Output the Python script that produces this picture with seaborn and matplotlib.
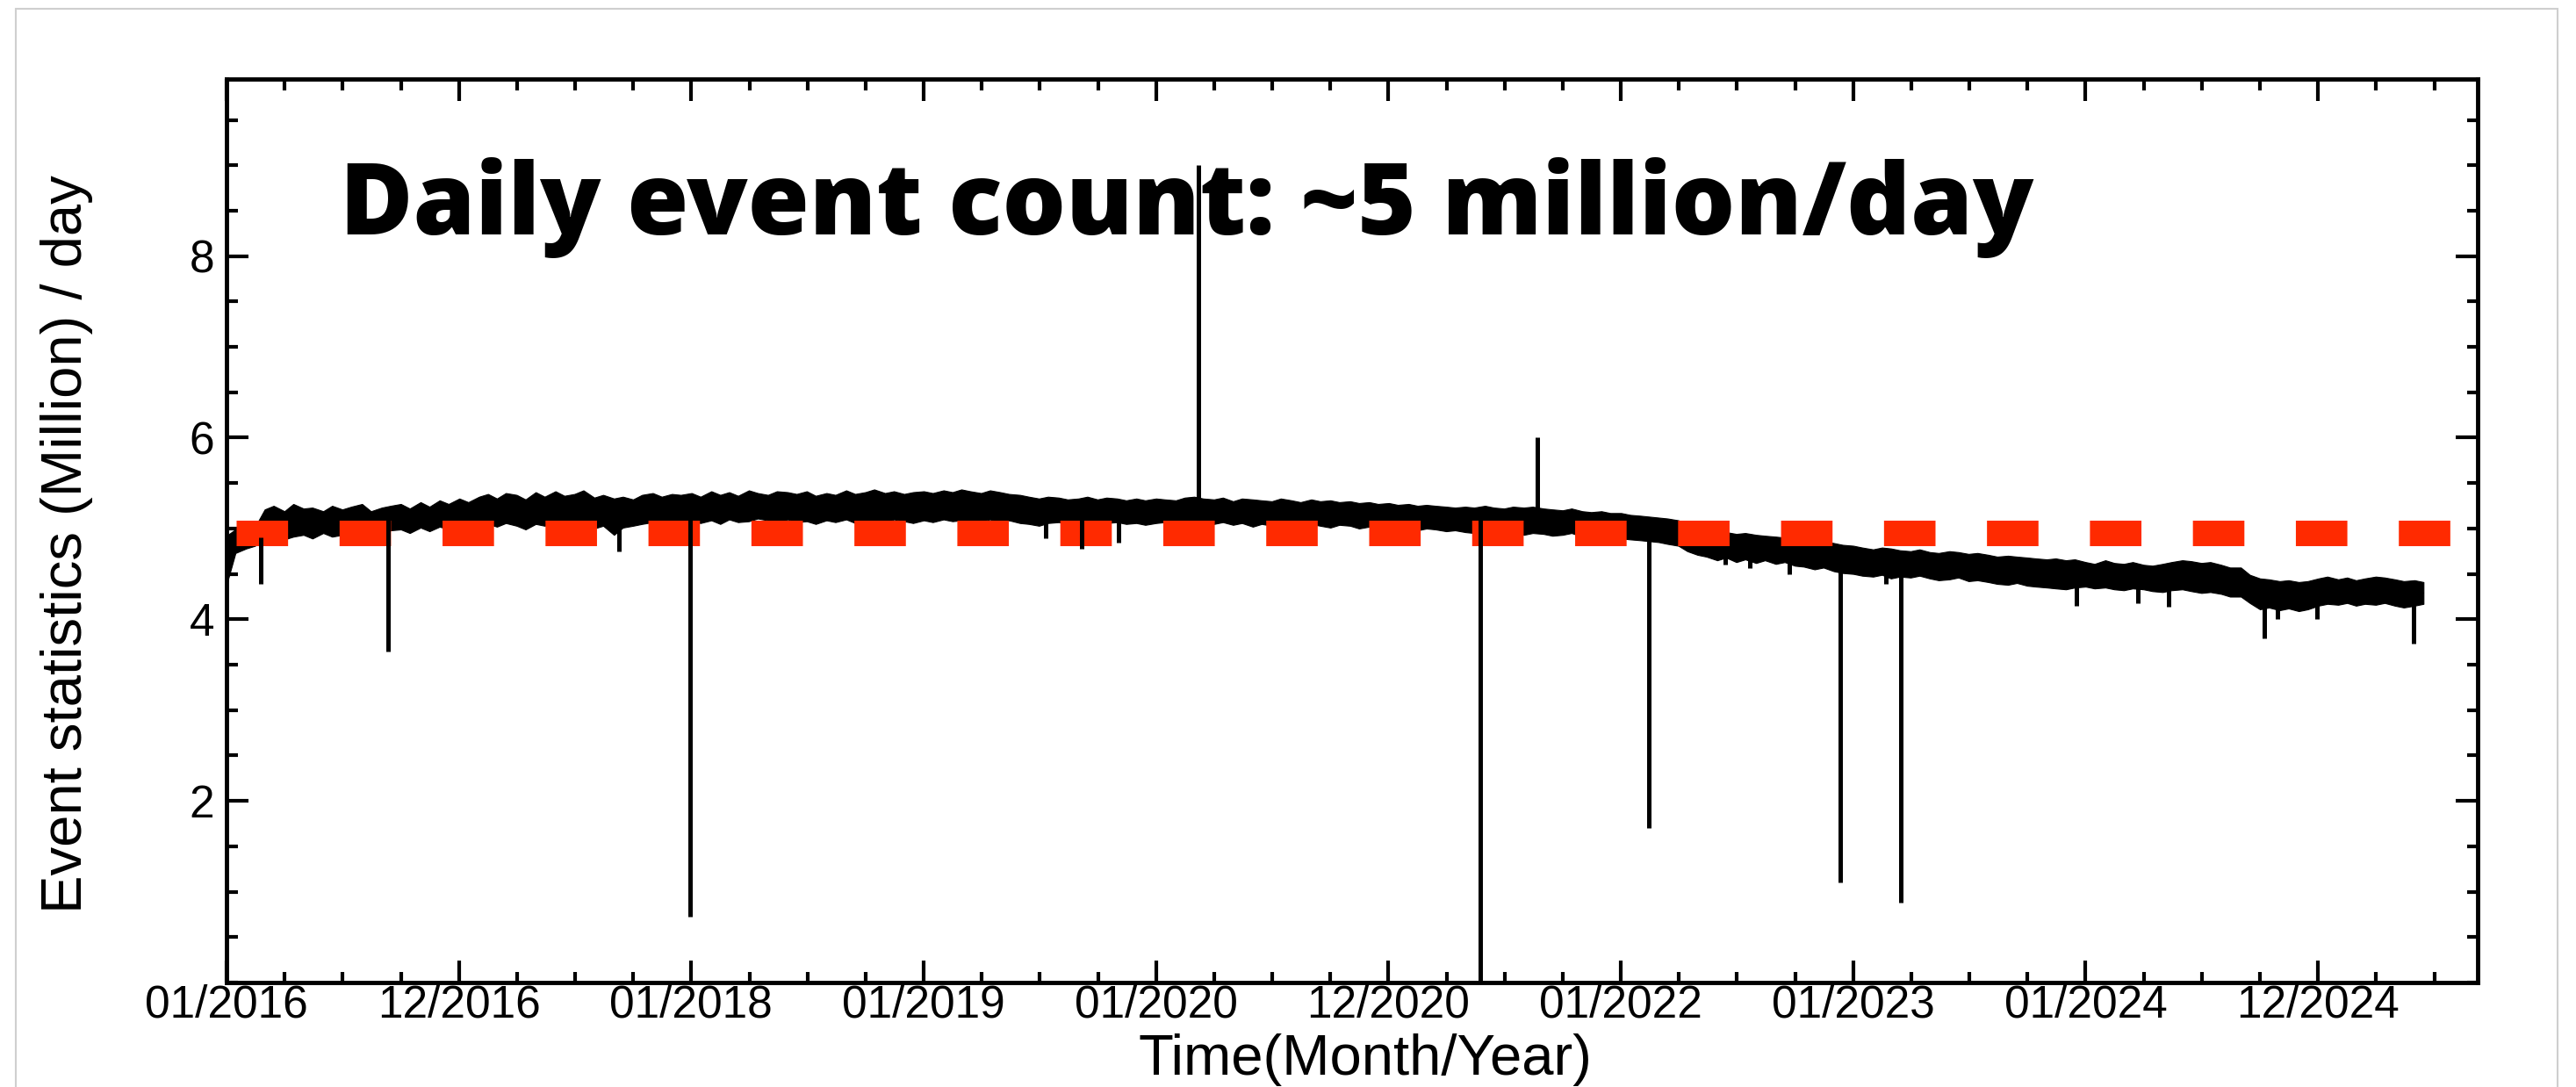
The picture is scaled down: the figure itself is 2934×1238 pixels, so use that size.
import numpy as np
import pandas as pd
import matplotlib
matplotlib.use("Agg")
import matplotlib.pyplot as plt
import seaborn as sns
from matplotlib.ticker import FixedLocator, FixedFormatter, MultipleLocator
from matplotlib.patches import Rectangle

# ---------------- data ----------------
# semi-monthly envelope (min / max of daily counts, million/day), Jan 2016 .. Jun 2025
band_low = [
    4.38, 4.73, 4.78, 4.81, 4.95, 4.93, 4.88, 4.91, 4.93, 4.89, 4.95, 4.91, 4.93, 4.90, 4.96, 4.91, 4.93, 4.98, 4.99, 4.95, 5.01, 4.97, 5.02, 4.99,  # 2016
    5.01, 5.03, 5.00, 5.05, 5.02, 5.06, 5.03, 4.99, 5.05, 5.03, 5.07, 5.01, 5.04, 5.06, 5.00, 5.03, 4.93, 5.01, 5.03, 5.05, 5.07, 5.03, 5.06, 5.04,  # 2017
    5.08, 5.06, 5.09, 5.05, 5.10, 5.07, 5.08, 5.11, 5.09, 5.06, 5.10, 5.07, 5.08, 5.05, 5.09, 5.07, 5.10, 5.06, 5.08, 5.09, 5.07, 5.10, 5.08, 5.06,  # 2018
    5.09, 5.07, 5.10, 5.08, 5.09, 5.07, 5.08, 5.10, 5.07, 5.09, 5.06, 5.05, 5.03, 5.06, 5.07, 5.05, 5.06, 5.07, 5.05, 5.06, 5.07, 5.05, 5.06, 5.04,  # 2019
    5.06, 5.07, 5.05, 5.08, 5.07, 5.06, 5.05, 5.07, 5.04, 5.06, 5.02, 5.05, 5.03, 5.06, 5.04, 5.02, 5.05, 5.03, 5.01, 5.04, 5.03, 5.00, 5.02, 5.01,  # 2020
    5.00, 5.01, 4.99, 4.98, 5.00, 4.99, 4.97, 4.98, 4.96, 4.95, 4.95, 4.97, 4.94, 4.96, 4.93, 4.95, 4.94, 4.92, 4.93, 4.95, 4.91, 4.92, 4.90, 4.91,  # 2021
    4.89, 4.88, 4.87, 4.86, 4.85, 4.83, 4.81, 4.75, 4.71, 4.69, 4.65, 4.68, 4.63, 4.66, 4.62, 4.65, 4.61, 4.63, 4.59, 4.58, 4.55, 4.57, 4.53, 4.51,  # 2022
    4.50, 4.48, 4.47, 4.49, 4.45, 4.47, 4.46, 4.48, 4.45, 4.43, 4.44, 4.46, 4.42, 4.43, 4.41, 4.39, 4.38, 4.40, 4.37, 4.36, 4.35, 4.34, 4.33, 4.35,  # 2023
    4.36, 4.34, 4.35, 4.33, 4.32, 4.34, 4.33, 4.31, 4.30, 4.32, 4.33, 4.31, 4.29, 4.30, 4.28, 4.25, 4.25, 4.18, 4.11, 4.13, 4.10, 4.12, 4.09, 4.11,  # 2024
    4.15, 4.17, 4.16, 4.18, 4.15, 4.17, 4.16, 4.18, 4.15, 4.13, 4.15, 4.17,  # 2025
]
band_high = [
    4.92, 4.99, 4.97, 5.02, 5.21, 5.25, 5.19, 5.27, 5.22, 5.23, 5.19, 5.25, 5.21, 5.24, 5.27, 5.19, 5.23, 5.25, 5.27, 5.22, 5.29, 5.24, 5.31, 5.27,  # 2016
    5.33, 5.29, 5.35, 5.38, 5.33, 5.39, 5.37, 5.32, 5.40, 5.35, 5.41, 5.36, 5.38, 5.42, 5.34, 5.37, 5.33, 5.35, 5.32, 5.37, 5.39, 5.35, 5.38, 5.37,  # 2017
    5.39, 5.35, 5.41, 5.37, 5.40, 5.36, 5.42, 5.39, 5.37, 5.41, 5.40, 5.38, 5.41, 5.36, 5.39, 5.37, 5.42, 5.38, 5.40, 5.43, 5.39, 5.41, 5.38, 5.40,  # 2018
    5.41, 5.39, 5.42, 5.40, 5.43, 5.41, 5.39, 5.42, 5.40, 5.38, 5.37, 5.35, 5.33, 5.35, 5.34, 5.32, 5.33, 5.35, 5.32, 5.34, 5.33, 5.31, 5.33, 5.31,  # 2019
    5.33, 5.32, 5.31, 5.34, 5.35, 5.33, 5.32, 5.34, 5.30, 5.33, 5.32, 5.31, 5.30, 5.33, 5.31, 5.29, 5.32, 5.30, 5.31, 5.29, 5.30, 5.28, 5.29, 5.27,  # 2020
    5.28, 5.26, 5.27, 5.25, 5.26, 5.25, 5.24, 5.23, 5.24, 5.23, 5.25, 5.23, 5.22, 5.24, 5.23, 5.24, 5.22, 5.21, 5.20, 5.22, 5.19, 5.18, 5.19, 5.17,  # 2021
    5.17, 5.15, 5.14, 5.13, 5.12, 5.11, 5.09, 5.05, 5.01, 4.99, 4.97, 4.96, 4.94, 4.95, 4.93, 4.92, 4.91, 4.90, 4.89, 4.87, 4.85, 4.86, 4.84, 4.82,  # 2022
    4.81, 4.79, 4.77, 4.79, 4.78, 4.76, 4.75, 4.77, 4.74, 4.73, 4.75, 4.74, 4.72, 4.73, 4.71, 4.69, 4.70, 4.69, 4.68, 4.67, 4.66, 4.67, 4.65, 4.66,  # 2023
    4.63, 4.61, 4.65, 4.62, 4.61, 4.63, 4.60, 4.59, 4.61, 4.63, 4.65, 4.64, 4.62, 4.63, 4.60, 4.57, 4.57, 4.49, 4.45, 4.44, 4.42, 4.43, 4.41, 4.42,  # 2024
    4.45, 4.47, 4.44, 4.46, 4.43, 4.45, 4.47, 4.46, 4.44, 4.42, 4.43, 4.41,  # 2025
]

# single-day excursions (date, level of the band there, value reached)
spike_dates = ["2016-02-24", "2016-09-11", "2017-09-09", "2017-12-30", "2019-07-12",
               "2019-09-06", "2019-11-03", "2020-03-07", "2021-05-24", "2021-08-22",
               "2022-02-14", "2022-06-14", "2022-07-22", "2022-09-22", "2022-12-11",
               "2023-02-21", "2023-03-16", "2023-12-17", "2024-03-23", "2024-05-10",
               "2024-10-08", "2024-10-29", "2024-12-30", "2025-05-31"]
spike_base = [4.90, 5.10, 5.15, 5.20, 5.20, 5.20, 5.20, 5.20, 5.10, 5.10,
              5.00, 4.80, 4.78, 4.74, 4.68, 4.62, 4.62, 4.50, 4.47, 4.47,
              4.28, 4.27, 4.26, 4.29]
spike_tip = [4.39, 3.65, 4.75, 0.73, 4.89, 4.78, 4.84, 9.00, 0.00, 6.00,
             1.70, 4.60, 4.56, 4.50, 1.10, 4.39, 0.88, 4.15, 4.18, 4.14,
             3.79, 4.00, 4.00, 3.73]

# reference level line (~5 million/day)
ref_level = 4.95
ref_dates = ["2016-01-16", "2025-07-28"]

# x axis: ticks every 365.25 days from 01/2016
tick_labels = ["01/2016", "12/2016", "01/2018", "01/2019", "01/2020",
               "12/2020", "01/2022", "01/2023", "01/2024", "12/2024"]
y_ticks = [2, 4, 6, 8]

title_text = "Daily event count: ~5 million/day"
x_title = "Time(Month/Year)"
y_title = "Event statistics (Million) / day"

# ---------------- figure ----------------
sns.set_theme(style="ticks")
plt.rcParams["font.family"] = ["Liberation Sans", "DejaVu Sans"]
for k in ("text.color", "axes.labelcolor", "xtick.color", "ytick.color", "axes.edgecolor"):
    plt.rcParams[k] = "black"

W, H = 2934, 1238
fig = plt.figure(figsize=(W / 100, H / 100), dpi=100)
fig.patch.set_facecolor("white")
L, R, T, B = 258, 2822, 90, 1119
ax = fig.add_axes([L / W, 1 - B / H, (R - L) / W, (B - T) / H])
ax.set_facecolor("white")

start = pd.Timestamp("2016-01-01")
bin_dates = pd.date_range(start, periods=len(band_low), freq="SMS")
bin_days = (bin_dates - start).days.values.astype(float)

df = pd.DataFrame({
    "day": np.concatenate([bin_days, bin_days]),
    "count": np.concatenate([band_low, band_high]),
})
sns.lineplot(data=df, x="day", y="count", estimator="mean", errorbar=("pi", 100),
             color="black", lw=1, ax=ax,
             err_kws={"alpha": 1, "linewidth": 0.8, "edgecolor": "black", "facecolor": "black"})

sp_days = [(pd.Timestamp(d) - start).days for d in spike_dates]
ax.vlines(sp_days, spike_base, spike_tip, colors="black", lw=3.6, zorder=7)

r_days = [(pd.Timestamp(d) - start).days for d in ref_dates]
ax.plot(r_days, [ref_level, ref_level], color="#ff2a00", lw=20.9,
        linestyle=(0, (2.02, 2.02)), dash_capstyle="butt", solid_capstyle="butt", zorder=5)

# axes
year = 365.25
ax.set_xlim(0, 9.687 * year)
ax.set_ylim(0, 9.95)
ax.xaxis.set_major_locator(FixedLocator([k * year for k in range(len(tick_labels))]))
ax.xaxis.set_major_formatter(FixedFormatter(tick_labels))
ax.xaxis.set_minor_locator(MultipleLocator(year / 4))
ax.set_yticks(y_ticks)
ax.set_yticklabels([str(v) for v in y_ticks])
ax.yaxis.set_minor_locator(MultipleLocator(0.5))

ax.tick_params(which="both", direction="in", top=True, right=True, width=3, colors="black")
ax.tick_params(which="major", length=18, labelsize=37)
ax.tick_params(which="minor", length=9)
ax.tick_params(axis="x", which="major", pad=1)
ax.tick_params(axis="y", which="major", pad=10)
for s in ax.spines.values():
    s.set_linewidth(3.5)
    s.set_color("black")

ax.set_xlabel(x_title, fontsize=47)
ax.xaxis.label.set_va("baseline")
ax.xaxis.set_label_coords(0.506, -0.102)
ax.set_ylabel(y_title, fontsize=47)
ax.yaxis.set_label_coords(-0.0594, 0.485)

ax.text(0.0503, 0.828, title_text, transform=ax.transAxes, fontsize=82, color="black",
        fontweight=800, family=["Open Sans", "Lato", "DejaVu Sans"], va="baseline", ha="left", zorder=6)

# thin grey frame around the picture
fig.patches.append(Rectangle((18 / W, -0.05), (2913 - 18) / W, 1 - 10 / H + 0.05,
                             transform=fig.transFigure, fill=False,
                             edgecolor="#cfcfcf", lw=1.5))

fig.savefig("out.png", dpi=100)
